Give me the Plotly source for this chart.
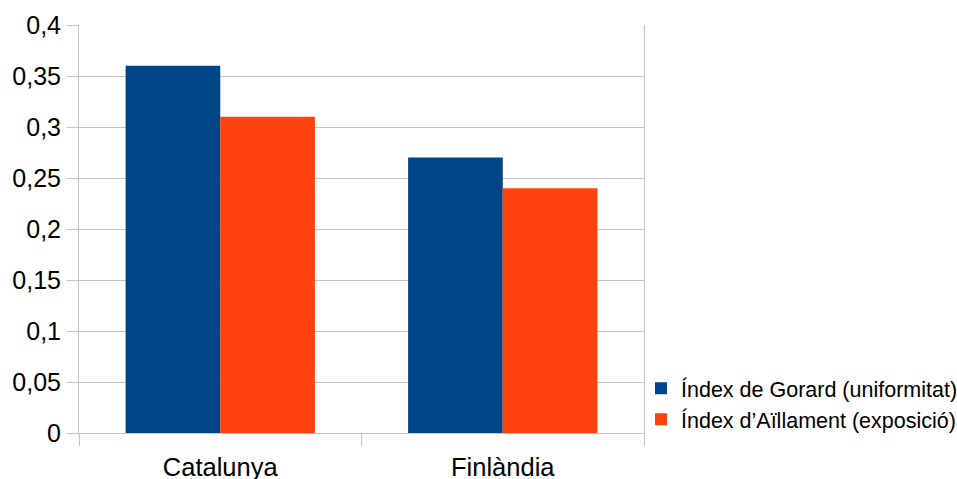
import plotly.graph_objects as go

categories = ["Catalunya", "Finlàndia"]
series_names = ["Índex de Gorard (uniformitat)", "Índex d’Aïllament (exposició)"]
gorard = [0.36, 0.27]
aillament = [0.31, 0.24]
colors = ["#004586", "#ff420e"]

fig = go.Figure()
for name, vals, col in zip(series_names, [gorard, aillament], colors):
    fig.add_trace(go.Bar(x=categories, y=vals, name=name, marker=dict(color=col, line=dict(width=0))))

grid = "#c4c4c4"
fig.update_layout(
    width=957, height=479,
    margin=dict(l=79, r=313, t=24.5, b=45.5, autoexpand=False),
    paper_bgcolor="white", plot_bgcolor="white",
    barmode="group", bargap=0.33, bargroupgap=0,
    separators=",.",
    font=dict(family="Liberation Sans", color="#000000"),
    showlegend=True,
    legend=dict(x=(641 - 79) / 565, xanchor="left", y=0.16, yanchor="top",
                font=dict(size=21.5, family="Liberation Sans"), itemwidth=30,
                bgcolor="rgba(0,0,0,0)", traceorder="normal"),
    xaxis=dict(showgrid=False, tickson="boundaries", ticks="outside", ticklen=12,
               tickcolor=grid, tickwidth=1, showline=True, linecolor=grid, linewidth=1,
               mirror=False, tickfont=dict(size=25.5), zeroline=False, ticklabelstandoff=11),
    yaxis=dict(range=[0, 0.4], dtick=0.05, tick0=0, showgrid=True, gridcolor=grid, gridwidth=1,
               ticks="outside", ticklen=11, tickcolor=grid, showline=True, linecolor=grid,
               mirror=True, zeroline=False, tickfont=dict(size=25), ticklabelstandoff=1),
)
fig.write_html("out.html")
